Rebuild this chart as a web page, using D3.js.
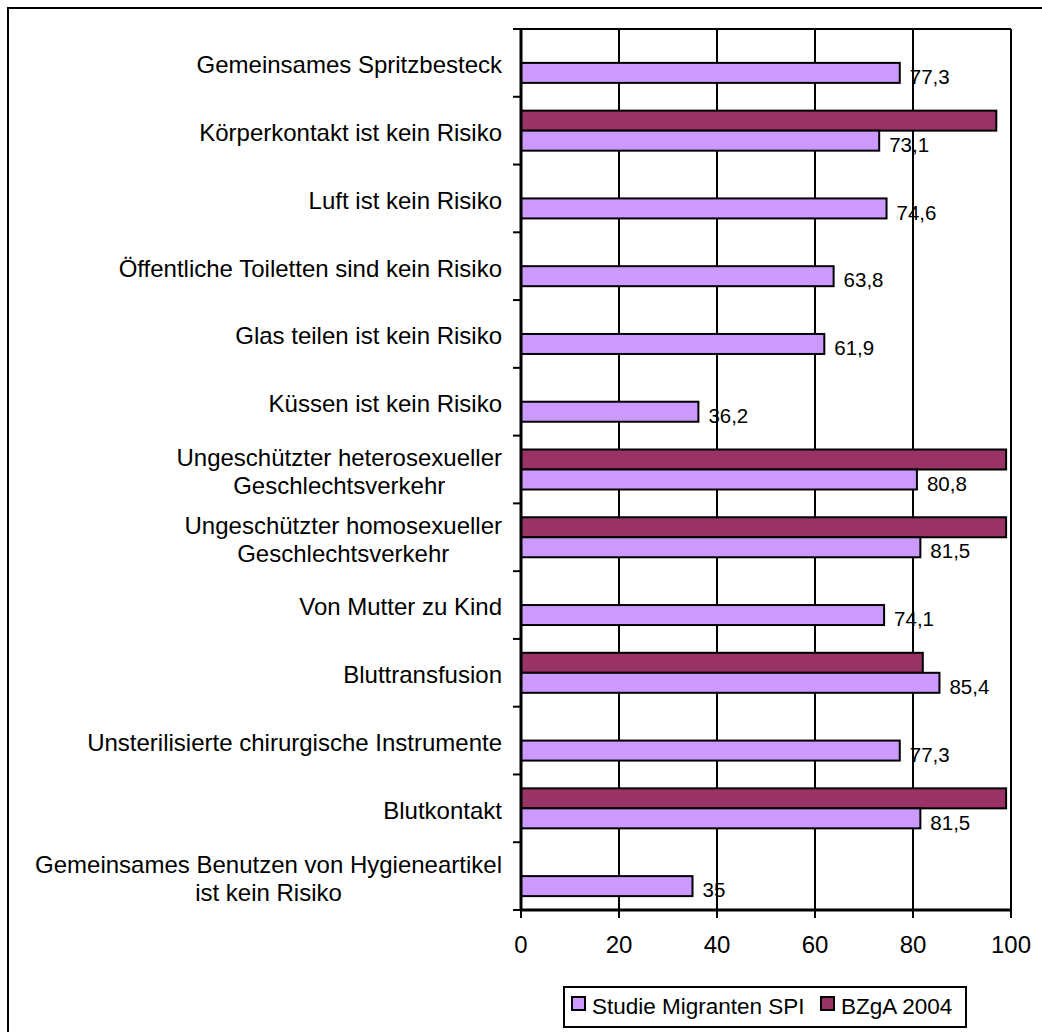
<!DOCTYPE html>
<html>
<head>
<meta charset="utf-8">
<script src="https://cdn.jsdelivr.net/npm/d3@7"></script>
<style>
  html, body { margin: 0; padding: 0; background: #fff; }
  svg { display: block; font-family: "Liberation Sans", Arial, sans-serif; }
</style>
</head>
<body>
<svg id="chart" width="1042" height="1032"></svg>
<script>

// categories, top to bottom (lines of each label)
var categories = [
    [ 'Gemeinsames Spritzbesteck' ],
    [ 'Körperkontakt ist kein Risiko' ],
    [ 'Luft ist kein Risiko' ],
    [ 'Öffentliche Toiletten sind kein Risiko' ],
    [ 'Glas teilen ist kein Risiko' ],
    [ 'Küssen ist kein Risiko' ],
    [ 'Ungeschützter heterosexueller', 'Geschlechtsverkehr' ],
    [ 'Ungeschützter homosexueller', 'Geschlechtsverkehr' ],
    [ 'Von Mutter zu Kind' ],
    [ 'Bluttransfusion' ],
    [ 'Unsterilisierte chirurgische Instrumente' ],
    [ 'Blutkontakt' ],
    [ 'Gemeinsames Benutzen von Hygieneartikel', 'ist kein Risiko' ]
];

var spiValues  = [ 77.3, 73.1, 74.6, 63.8, 61.9, 36.2, 80.8, 81.5, 74.1, 85.4, 77.3, 81.5, 35 ];
var bzgaValues = [ null, 97, null, null, null, null, 99, 99, null, 82, null, 99, null ];

var seriesNames = [ 'Studie Migranten SPI', 'BZgA 2004' ];
var xTicks = [ 0, 20, 40, 60, 80, 100 ];

var colors = { spi: '#cc99ff', bzga: '#993366' };

var svg = d3.select('#chart');

var plot = { left: 521, right: 1011, top: 29, bottom: 910 };

// outer chart border (right/bottom lie outside the picture)
svg.append('rect')
    .attr('x', 8).attr('y', 8)
    .attr('width', 1060).attr('height', 1060)
    .attr('fill', 'none')
    .attr('stroke', '#000')
    .attr('stroke-width', 2);

var x = d3.scaleLinear()
    .domain([ 0, 100 ])
    .range([ plot.left, plot.right ]);

var y = d3.scaleBand()
    .domain( d3.range( categories.length ) )
    .range([ plot.top, plot.bottom ]);

var inner = d3.scaleBand()
    .domain([ 'bzga', 'spi' ])
    .range([ 0, y.bandwidth() ])
    .paddingInner( 0 )
    .paddingOuter( 0.694 );

// gridlines
svg.append('g')
    .selectAll('line')
    .data( xTicks.slice( 1 ) )
    .enter().append('line')
    .attr('x1', function ( d ) { return x( d ); })
    .attr('x2', function ( d ) { return x( d ); })
    .attr('y1', plot.top)
    .attr('y2', plot.bottom)
    .attr('stroke', '#000')
    .attr('stroke-width', 2);

// plot top border
svg.append('line')
    .attr('x1', plot.left).attr('x2', plot.right)
    .attr('y1', plot.top).attr('y2', plot.top)
    .attr('stroke', '#000')
    .attr('stroke-width', 2);

// bars
var rows = categories.map( function ( c, i ) {
    return { i: i, spi: spiValues[ i ], bzga: bzgaValues[ i ] };
});

svg.append('g')
    .selectAll('rect')
    .data( rows.filter( function ( d ) { return d.bzga !== null; }) )
    .enter().append('rect')
    .attr('x', x( 0 ))
    .attr('y', function ( d ) { return y( d.i ) + inner('bzga'); })
    .attr('width', function ( d ) { return x( d.bzga ) - x( 0 ); })
    .attr('height', inner.bandwidth())
    .attr('fill', colors.bzga)
    .attr('stroke', '#000')
    .attr('stroke-width', 2);

svg.append('g')
    .selectAll('rect')
    .data( rows )
    .enter().append('rect')
    .attr('x', x( 0 ))
    .attr('y', function ( d ) { return y( d.i ) + inner('spi'); })
    .attr('width', function ( d ) { return x( d.spi ) - x( 0 ); })
    .attr('height', inner.bandwidth())
    .attr('fill', colors.spi)
    .attr('stroke', '#000')
    .attr('stroke-width', 2);

// value labels
svg.append('g')
    .selectAll('text')
    .data( rows )
    .enter().append('text')
    .attr('x', function ( d ) { return x( d.spi ) + 10; })
    .attr('y', function ( d ) { return y( d.i ) + inner('spi') + inner.bandwidth() / 2 + 4; })
    .attr('dy', '0.35em')
    .attr('font-size', 20.5)
    .attr('fill', '#000')
    .text( function ( d ) { return String( d.spi ).replace('.', ','); });

// y axis
var yAxis = svg.append('g');

yAxis.append('line')
    .attr('x1', plot.left).attr('x2', plot.left)
    .attr('y1', plot.top).attr('y2', plot.bottom)
    .attr('stroke', '#000')
    .attr('stroke-width', 3);

yAxis.selectAll('.tick')
    .data( d3.range( categories.length + 1 ) )
    .enter().append('line')
    .attr('x1', plot.left - 8).attr('x2', plot.left)
    .attr('y1', function ( d ) { return plot.top + d * y.step(); })
    .attr('y2', function ( d ) { return plot.top + d * y.step(); })
    .attr('stroke', '#000')
    .attr('stroke-width', 2);

// category labels: block right aligned, lines centred in the block
var labelRight = 502;
var lineGap = 28;

categories.forEach( function ( lines, i ) {

    var cy = y( i ) + y.bandwidth() / 2 + 2;
    var g = yAxis.append('g');

    var texts = lines.map( function ( t, k ) {
        return g.append('text')
            .attr('y', cy + ( k - ( lines.length - 1 ) / 2 ) * lineGap)
            .attr('dy', '0.35em')
            .attr('font-size', 24)
            .attr('fill', '#000')
            .attr('text-anchor', 'middle')
            .text( t );
    });

    var maxW = d3.max( texts, function ( t ) { return t.node().getComputedTextLength(); });

    texts.forEach( function ( t ) { t.attr('x', labelRight - maxW / 2); });

});

// x axis
var xAxis = svg.append('g');

xAxis.append('line')
    .attr('x1', plot.left).attr('x2', plot.right)
    .attr('y1', plot.bottom).attr('y2', plot.bottom)
    .attr('stroke', '#000')
    .attr('stroke-width', 3);

xAxis.selectAll('.tick')
    .data( xTicks )
    .enter().append('line')
    .attr('x1', function ( d ) { return x( d ); })
    .attr('x2', function ( d ) { return x( d ); })
    .attr('y1', plot.bottom)
    .attr('y2', plot.bottom + 8)
    .attr('stroke', '#000')
    .attr('stroke-width', 2);

xAxis.selectAll('text')
    .data( xTicks )
    .enter().append('text')
    .attr('x', function ( d ) { return x( d ); })
    .attr('y', 945)
    .attr('dy', '0.35em')
    .attr('text-anchor', 'middle')
    .attr('font-size', 24)
    .attr('fill', '#000')
    .text( function ( d ) { return d; });

// legend
var legend = svg.append('g');

legend.append('rect')
    .attr('x', 564).attr('y', 987)
    .attr('width', 402).attr('height', 40)
    .attr('fill', '#fff')
    .attr('stroke', '#000')
    .attr('stroke-width', 2);

var legendItems = [
    { name: seriesNames[ 0 ], color: colors.spi, x: 572 },
    { name: seriesNames[ 1 ], color: colors.bzga, x: 821 }
];

legendItems.forEach( function ( d ) {

    legend.append('rect')
        .attr('x', d.x).attr('y', 997)
        .attr('width', 13).attr('height', 13)
        .attr('fill', d.color)
        .attr('stroke', '#000')
        .attr('stroke-width', 2);

    legend.append('text')
        .attr('x', d.x + 20)
        .attr('y', 1006)
        .attr('dy', '0.35em')
        .attr('font-size', 22.5)
        .attr('fill', '#000')
        .text( d.name );

});

</script>
</body>
</html>
